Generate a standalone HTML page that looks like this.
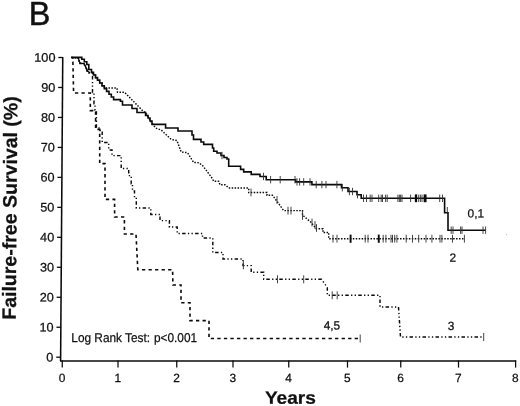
<!DOCTYPE html>
<html><head><meta charset="utf-8"><title>B</title>
<style>html,body{margin:0;padding:0;background:#fff}body{width:520px;height:406px;overflow:hidden;font-family:"Liberation Sans",sans-serif}</style>
</head><body>
<svg width="520" height="406" viewBox="0 0 520 406" style="display:block">
<rect width="520" height="406" fill="#fff"/>
<defs><filter id="g" x="-5%" y="-5%" width="110%" height="110%" color-interpolation-filters="sRGB"><feColorMatrix type="matrix" values="1 0 0 0 0 0 1 0 0 0 0 0 1 0 0 0 0 0 1 0"/></filter></defs>
<g filter="url(#g)" font-family="Liberation Sans, sans-serif" fill="#111" stroke="#111" stroke-width="0.25" stroke-linejoin="round" text-rendering="geometricPrecision">
<text transform="translate(28.80,24.90) rotate(0.03) scale(0.9700,1)" font-size="33.4" stroke-width="0.5">B</text>
<text transform="translate(53.38,361.40) rotate(0.03) scale(1.0240,1)" font-size="12.4" text-anchor="end" >0</text>
<text transform="translate(53.59,331.43) rotate(0.03) scale(1.0240,1)" font-size="12.4" text-anchor="end" >10</text>
<text transform="translate(53.80,301.46) rotate(0.03) scale(1.0240,1)" font-size="12.4" text-anchor="end" >20</text>
<text transform="translate(54.01,271.49) rotate(0.03) scale(1.0240,1)" font-size="12.4" text-anchor="end" >30</text>
<text transform="translate(54.23,241.52) rotate(0.03) scale(1.0240,1)" font-size="12.4" text-anchor="end" >40</text>
<text transform="translate(54.44,211.55) rotate(0.03) scale(1.0240,1)" font-size="12.4" text-anchor="end" >50</text>
<text transform="translate(54.65,181.58) rotate(0.03) scale(1.0240,1)" font-size="12.4" text-anchor="end" >60</text>
<text transform="translate(54.86,151.61) rotate(0.03) scale(1.0240,1)" font-size="12.4" text-anchor="end" >70</text>
<text transform="translate(55.08,121.64) rotate(0.03) scale(1.0240,1)" font-size="12.4" text-anchor="end" >80</text>
<text transform="translate(55.29,91.67) rotate(0.03) scale(1.0240,1)" font-size="12.4" text-anchor="end" >90</text>
<text transform="translate(55.50,61.70) rotate(0.03) scale(1.0240,1)" font-size="12.4" text-anchor="end" >100</text>
<text transform="translate(61.95,382.10) rotate(0.03)" font-size="11.9" text-anchor="middle" >0</text>
<text transform="translate(117.70,382.10) rotate(0.03)" font-size="11.9" text-anchor="middle" >1</text>
<text transform="translate(176.45,382.10) rotate(0.03)" font-size="11.9" text-anchor="middle" >2</text>
<text transform="translate(232.70,382.10) rotate(0.03)" font-size="11.9" text-anchor="middle" >3</text>
<text transform="translate(288.45,382.10) rotate(0.03)" font-size="11.9" text-anchor="middle" >4</text>
<text transform="translate(347.20,382.10) rotate(0.03)" font-size="11.9" text-anchor="middle" >5</text>
<text transform="translate(400.45,382.10) rotate(0.03)" font-size="11.9" text-anchor="middle" >6</text>
<text transform="translate(458.20,382.10) rotate(0.03)" font-size="11.9" text-anchor="middle" >7</text>
<text transform="translate(515.30,382.10) rotate(0.03)" font-size="11.9" text-anchor="middle" >8</text>
<text transform="translate(71.30,341.60) rotate(0.03) scale(0.9260,1)" font-size="12.8" >Log Rank Test: <tspan dx="0.6">p&lt;0.001</tspan></text>
<text transform="translate(467.60,217.60) rotate(0.03)" font-size="11.9" >0,1</text>
<text transform="translate(449.40,261.70) rotate(0.03)" font-size="11.9" >2</text>
<text transform="translate(447.70,330.00) rotate(0.03)" font-size="11.9" >3</text>
<text transform="translate(323.70,329.50) rotate(0.03)" font-size="11.9" >4,5</text>
<text transform="translate(15.80,319.80) rotate(-89.6) scale(1.0070,1)" font-size="19.4" font-weight="bold" >Failure-free Survival (%)</text>
<text transform="translate(264.90,403.70) rotate(0.03) scale(1.0750,1)" font-size="17.8" font-weight="bold" >Years</text>
</g>
<g stroke="#0a0a0a" fill="none">
<path d="M62.75,57 L60.60,361" stroke-width="1.55"/>
<path d="M60,361.0 H516.2" stroke-width="1.5"/>
<path d="M56.23,357.20 H60.63" stroke-width="1.3"/>
<path d="M56.44,327.23 H60.84" stroke-width="1.3"/>
<path d="M56.65,297.26 H61.05" stroke-width="1.3"/>
<path d="M56.86,267.29 H61.26" stroke-width="1.3"/>
<path d="M57.08,237.32 H61.48" stroke-width="1.3"/>
<path d="M57.29,207.35 H61.69" stroke-width="1.3"/>
<path d="M57.50,177.38 H61.90" stroke-width="1.3"/>
<path d="M57.71,147.41 H62.11" stroke-width="1.3"/>
<path d="M57.93,117.44 H62.33" stroke-width="1.3"/>
<path d="M58.14,87.47 H62.54" stroke-width="1.3"/>
<path d="M58.35,57.50 H62.75" stroke-width="1.3"/>
<path d="M62.25,360.5 V367.6" stroke-width="1.25"/>
<path d="M118.00,360.5 V367.6" stroke-width="1.25"/>
<path d="M176.75,360.5 V367.6" stroke-width="1.25"/>
<path d="M233.00,360.5 V367.6" stroke-width="1.25"/>
<path d="M288.75,360.5 V367.6" stroke-width="1.25"/>
<path d="M347.50,360.5 V367.6" stroke-width="1.25"/>
<path d="M400.75,360.5 V367.6" stroke-width="1.25"/>
<path d="M458.50,360.5 V367.6" stroke-width="1.25"/>
<path d="M515.60,360.5 V367.6" stroke-width="1.25"/>
</g>
<g stroke="#0a0a0a" fill="none" stroke-linejoin="miter">
<path d="M71.50,57.60 L72.80,57.60 L73.60,93.00 L90.30,93.00 L90.30,110.60 L95.60,110.60 L95.60,129.40 L99.70,129.40 L99.70,163.60 L105.00,163.60 L105.00,199.40 L114.60,199.40 L114.60,217.00 L124.40,217.00 L124.40,234.00 L136.00,234.00 L137.80,269.70 L172.60,269.70 L172.90,285.00 L181.00,285.00 L181.00,302.70 L190.00,302.70 L190.00,320.60 L209.00,320.60 L209.00,338.50 L360.20,338.50" stroke-width="1.6" stroke-dasharray="3.3 3.24" stroke-dashoffset="1.2"/>
<path d="M72.00,57.60 L78.00,57.60 L78.00,60.50 L80.00,60.50 L80.00,63.50 L84.30,63.50 L84.30,67.00 L87.00,67.00 L87.00,71.00 L89.00,71.00 L89.00,73.00 L92.50,73.00 L92.50,92.50 L94.00,92.50 L94.00,103.70 L95.00,103.70 L95.00,110.00 L96.40,110.00 L96.40,128.00 L100.00,128.00 L100.00,130.50 L102.20,130.50 L102.20,142.50 L108.70,142.50 L108.70,150.00 L112.00,150.00 L112.00,155.60 L121.20,155.60 L121.20,168.50 L128.70,168.50 L128.70,175.60 L131.20,175.60 L131.20,183.70 L132.50,183.70 L132.50,191.00 L134.50,191.00 L134.50,197.50 L136.30,197.50 L136.30,208.00 L150.80,208.00 L150.80,214.40 L160.00,214.40 L160.00,220.60 L169.40,220.60 L169.40,227.00 L177.20,227.00 L177.20,233.50 L202.50,233.50 L202.50,238.00 L212.80,238.00 L212.80,252.50 L223.00,252.50 L223.00,259.00 L243.00,259.00 L243.00,265.60 L251.20,265.60 L251.20,272.20 L263.70,272.20 L263.70,279.30 L321.50,279.30 L327.30,287.50 L327.30,295.30 L380.00,295.30 L380.00,307.00 L398.50,307.00 L400.50,337.00 L483.70,337.00" stroke-width="1.45" stroke-dasharray="3.5 2.3 1.3 2.3 1.3 2.3"/>
<path d="M72.00,57.80 L78.50,58.00 L79.50,63.00 L84.00,63.50 L88.00,72.40 L91.50,72.40 L93.50,72.40 L93.50,75.00 L95.50,75.00 L95.50,77.60 L97.50,77.60 L97.50,80.20 L99.70,80.20 L99.70,83.00 L102.00,83.00 L102.00,85.80 L104.30,85.80 L104.30,88.00 L117.00,88.00 L117.50,92.20 L124.50,92.20 L142.50,110.60 L146.00,113.00 L150.00,120.00 L152.00,123.00 L155.60,128.00 L161.20,130.00 L171.20,139.40 L177.00,140.60 L181.20,152.00 L187.50,152.70 L193.70,162.50 L199.00,162.70 L203.00,166.00 L212.50,178.70 L213.70,181.20 L218.70,181.20 L220.00,184.70 L225.00,184.70 L228.70,188.00 L248.70,188.00 L248.70,192.50 L267.00,192.50 L267.00,195.30 L272.50,195.30 L277.50,202.00 L283.70,210.60 L302.50,210.60 L302.50,215.00 L311.20,222.50 L316.20,228.70 L323.00,228.70 L323.00,232.50 L328.70,232.50 L328.70,238.70 L464.40,238.70" stroke-width="1.45" stroke-dasharray="1.5 1.45"/>
<path d="M78,57.8 L79,60.5 L80,63.3 L84.3,63.5 L87,70.5 L89.5,72.6" stroke-width="1.2"/>
<path d="M71.00,57.40 L81.80,57.40 L81.80,59.30 L84.30,59.30 L84.30,61.80 L86.80,61.80 L86.80,64.50 L88.80,64.50 L88.80,69.50 L91.50,69.50 L91.50,72.40 L93.50,72.40 L93.50,75.00 L95.50,75.00 L95.50,77.60 L97.50,77.60 L97.50,80.20 L99.70,80.20 L99.70,83.00 L102.00,83.00 L102.00,85.80 L104.30,85.80 L104.30,88.60 L106.60,88.60 L106.60,91.40 L109.00,91.40 L109.00,94.20 L111.30,94.20 L111.30,97.00 L113.60,97.00 L113.60,99.60 L120.40,99.60 L120.40,101.20 L122.50,101.20 L122.50,105.00 L132.00,105.00 L132.00,108.50 L137.00,108.50 L137.00,112.50 L145.60,112.50 L145.60,115.50 L148.00,115.50 L148.00,118.00 L150.00,118.00 L150.00,121.00 L152.00,121.00 L152.00,124.40 L165.60,124.40 L165.60,128.00 L178.00,128.00 L178.00,131.00 L192.00,131.00 L192.00,135.00 L193.50,135.00 L193.50,139.40 L201.00,139.40 L201.00,142.00 L203.70,142.00 L203.70,144.40 L212.50,144.40 L212.50,148.00 L213.70,148.00 L213.70,151.20 L217.00,151.20 L217.00,153.00 L221.00,153.00 L221.00,155.50 L224.00,155.50 L224.00,157.50 L227.00,157.50 L227.00,159.00 L228.70,159.00 L228.70,166.20 L240.60,166.20 L240.60,169.40 L243.70,169.40 L243.70,171.90 L251.20,171.90 L251.20,174.40 L260.00,174.40 L260.00,176.50 L266.20,176.50 L266.20,179.70 L295.60,179.70 L295.60,181.90 L311.90,181.90 L311.90,184.60 L341.50,184.60 L341.50,187.70 L348.00,187.70 L348.00,191.50 L357.00,191.50 L357.00,194.70 L361.20,194.70 L361.20,198.30 L444.60,198.30 L444.60,212.70 L448.00,212.70 L448.00,230.20 L485.60,230.20" stroke-width="1.6"/>
</g>
<g stroke="#303030" stroke-width="0.9" fill="none">
<path d="M222.00,151.80 V159.20"/>
<path d="M263.50,172.80 V180.20"/>
<path d="M270.60,176.00 V183.40"/>
<path d="M280.20,176.00 V183.40"/>
<path d="M295.00,176.00 V183.40"/>
<path d="M297.00,178.20 V185.60"/>
<path d="M299.60,178.20 V185.60"/>
<path d="M303.70,178.20 V185.60"/>
<path d="M310.00,178.20 V185.60"/>
<path d="M316.20,180.90 V188.30"/>
<path d="M321.90,180.90 V188.30"/>
<path d="M326.00,180.90 V188.30"/>
<path d="M336.90,180.90 V188.30"/>
<path d="M342.30,184.00 V191.40"/>
<path d="M349.40,187.80 V195.20"/>
<path d="M352.50,187.80 V195.20"/>
<path d="M357.50,191.00 V198.40"/>
<path d="M363.50,194.60 V202.00"/>
<path d="M366.50,194.60 V202.00"/>
<path d="M370.20,194.60 V202.00"/>
<path d="M372.00,194.60 V202.00"/>
<path d="M378.70,194.60 V202.00"/>
<path d="M381.20,194.60 V202.00"/>
<path d="M382.50,194.60 V202.00"/>
<path d="M385.60,194.60 V202.00"/>
<path d="M387.20,194.60 V202.00"/>
<path d="M397.90,194.60 V202.00"/>
<path d="M399.40,194.60 V202.00"/>
<path d="M400.60,194.60 V202.00"/>
<path d="M402.00,194.60 V202.00"/>
<path d="M410.60,194.60 V202.00"/>
<path d="M418.70,194.60 V202.00"/>
<path d="M420.40,194.60 V202.00"/>
<path d="M422.00,194.60 V202.00"/>
<path d="M439.70,194.60 V202.00"/>
<path d="M442.50,194.60 V202.00"/>
<path d="M451.20,226.50 V233.90"/>
<path d="M453.00,226.50 V233.90"/>
<path d="M460.60,226.50 V233.90"/>
<path d="M462.00,226.50 V233.90"/>
<path d="M483.00,226.50 V233.90"/>
<path d="M485.60,226.50 V233.90"/>
<path d="M251.00,188.60 V196.40"/>
<path d="M277.00,196.10 V203.90"/>
<path d="M288.00,206.70 V214.50"/>
<path d="M291.00,206.70 V214.50"/>
<path d="M302.50,212.10 V219.90"/>
<path d="M312.00,218.60 V226.40"/>
<path d="M315.00,221.10 V228.90"/>
<path d="M316.50,224.10 V231.90"/>
<path d="M333.00,234.80 V242.60"/>
<path d="M337.00,234.80 V242.60"/>
<path d="M365.20,234.80 V242.60"/>
<path d="M368.00,234.80 V242.60"/>
<path d="M383.20,234.80 V242.60"/>
<path d="M385.90,234.80 V242.60"/>
<path d="M391.00,234.80 V242.60"/>
<path d="M392.50,234.80 V242.60"/>
<path d="M394.70,234.80 V242.60"/>
<path d="M396.90,234.80 V242.60"/>
<path d="M406.20,234.80 V242.60"/>
<path d="M412.50,234.80 V242.60"/>
<path d="M418.70,234.80 V242.60"/>
<path d="M426.00,234.80 V242.60"/>
<path d="M431.90,234.80 V242.60"/>
<path d="M440.00,234.80 V242.60"/>
<path d="M441.90,234.80 V242.60"/>
<path d="M452.50,234.80 V242.60"/>
<path d="M464.40,234.80 V242.60"/>
<path d="M416.00,194.40 V202.20" stroke="#0a0a0a" stroke-width="2.3"/>
<path d="M425.10,194.40 V202.20" stroke="#0a0a0a" stroke-width="2.9"/>
<path d="M350.60,234.60 V242.80" stroke="#0a0a0a" stroke-width="1.9"/>
<path d="M378.75,234.60 V242.80" stroke="#0a0a0a" stroke-width="1.9"/>
<path d="M447.3,207 V213"/>
<path d="M243.40,261.30 V269.30"/>
<path d="M277.50,275.30 V283.30"/>
<path d="M303.70,275.30 V283.30"/>
<path d="M332.20,291.30 V299.30"/>
<path d="M337.20,291.30 V299.30"/>
<path d="M483.70,333.00 V341.00"/>
<path d="M360.20,334.50 V342.50"/>
</g>
<circle cx="506.6" cy="234.7" r="0.7" fill="#c4c4c4"/>
</svg>
</body></html>
